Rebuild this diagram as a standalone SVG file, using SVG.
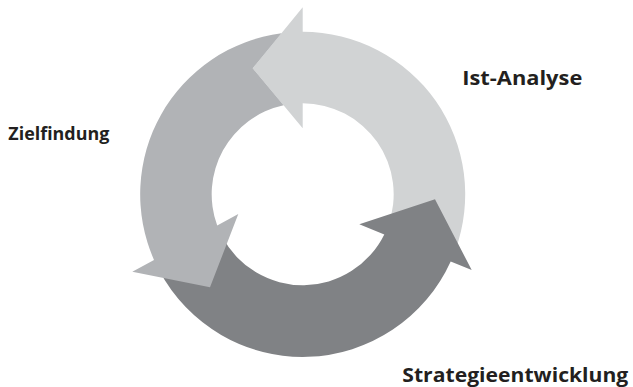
<svg xmlns="http://www.w3.org/2000/svg" width="633" height="387" viewBox="0 0 633 387">
  <style>
    .label { font-family: "Open Sans", "Liberation Sans", sans-serif; font-weight: bold; fill: #231f20; }
    .light { fill: #d1d3d4; }
    .medium { fill: #b1b3b6; }
    .dark { fill: #808285; }
  </style>
  <rect width="633" height="387" fill="#ffffff"/>
  <!-- ring arrows around center (302.7, 194.3), outer radius 162.5, inner radius 91 -->
  <g id="connectors">
    <g id="arrow-ist-analyse">
      <path class="light" d="M455.4,249.9 A162.5,162.5 0 0 0 302.7,31.8 L302.7,7.3 L252.7,68.3 L302.7,128.3 L302.7,103.3 A91,91 0 0 1 388.2,225.4 Z"/>
    </g>
    <g id="arrow-strategie">
      <path class="dark" d="M159.2,270.6 A162.5,162.5 0 0 0 450.7,261.5 L471.7,270 L435,199.3 L359.3,224.3 L384.3,234.5 A91,91 0 0 1 222.4,237.0 Z"/>
    </g>
    <g id="arrow-ziel">
      <!-- tail notched around the light arrowhead -->
      <path class="medium" d="M281.5,33.2 A162.5,162.5 0 0 0 154.0,259.9 L132.3,271.7 L210,287.3 L238.3,214 L217.2,225.5 A91,91 0 0 1 283.6,105.3 L252.7,68.3 Z"/>
    </g>
  </g>
  <g id="node-ist-analyse">
    <text class="label" x="462.3" y="85.3" font-size="20" textLength="120" lengthAdjust="spacingAndGlyphs">Ist-Analyse</text>
  </g>
  <g id="node-zielfindung">
    <text class="label" x="8.3" y="139.7" font-size="17.5" textLength="101" lengthAdjust="spacingAndGlyphs">Zielfindung</text>
  </g>
  <g id="node-strategieentwicklung">
    <text class="label" x="402.3" y="381.5" font-size="20" textLength="226" lengthAdjust="spacingAndGlyphs">Strategieentwicklung</text>
  </g>
</svg>
